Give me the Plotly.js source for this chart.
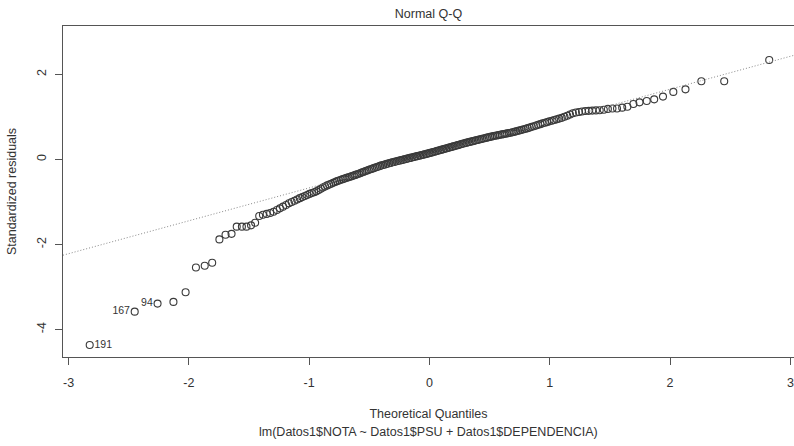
<!DOCTYPE html>
<html>
<head>
<meta charset="utf-8">
<script src="https://cdn.plot.ly/plotly-3.0.1.min.js"></script>
<style>html,body{margin:0;padding:0;background:#fff;}#chart{width:794px;height:446px;}</style>
</head>
<body>
<div id="chart"></div>
<script>
// Theoretical normal quantiles (x), sorted ascending
const theoreticalQuantiles = [
-2.824,-2.450,-2.260,-2.128,-2.027,-1.941,-1.868,-1.806,-1.746,-1.695,
-1.645,-1.602,-1.559,-1.521,-1.483,-1.449,-1.415,-1.384,-1.353,-1.324,
-1.296,-1.268,-1.243,-1.217,-1.192,-1.168,-1.145,-1.122,-1.100,-1.078,
-1.057,-1.036,-1.017,-0.997,-0.978,-0.959,-0.940,-0.921,-0.903,-0.886,
-0.868,-0.850,-0.833,-0.817,-0.800,-0.784,-0.768,-0.752,-0.736,-0.720,
-0.705,-0.690,-0.674,-0.660,-0.645,-0.630,-0.616,-0.602,-0.587,-0.573,
-0.559,-0.545,-0.531,-0.517,-0.504,-0.490,-0.477,-0.464,-0.450,-0.437,
-0.424,-0.411,-0.398,-0.385,-0.372,-0.360,-0.347,-0.334,-0.322,-0.309,
-0.297,-0.284,-0.272,-0.259,-0.247,-0.235,-0.223,-0.210,-0.198,-0.186,
-0.174,-0.162,-0.150,-0.138,-0.126,-0.114,-0.102,-0.090,-0.078,-0.066,
-0.054,-0.042,-0.030,-0.018,-0.006,
0.006,0.018,0.030,0.042,0.054,0.066,0.078,0.090,0.102,0.114,
0.126,0.138,0.150,0.162,0.174,0.186,0.198,0.210,0.223,0.235,
0.247,0.259,0.272,0.284,0.297,0.309,0.322,0.334,0.347,0.360,
0.372,0.385,0.398,0.411,0.424,0.437,0.450,0.464,0.477,0.490,
0.504,0.517,0.531,0.545,0.559,0.573,0.587,0.602,0.616,0.630,
0.645,0.660,0.674,0.690,0.705,0.720,0.736,0.752,0.768,0.784,
0.800,0.817,0.833,0.850,0.868,0.886,0.903,0.921,0.940,0.959,
0.978,0.997,1.017,1.036,1.057,1.078,1.100,1.122,1.145,1.168,
1.192,1.217,1.243,1.268,1.296,1.324,1.353,1.384,1.415,1.449,
1.483,1.521,1.559,1.602,1.645,1.695,1.746,1.806,1.868,1.941,
2.027,2.128,2.260,2.450,2.824
];

// Standardized residuals (y), sorted ascending
const standardizedResiduals = [
-4.365,-3.58,-3.39,-3.35,-3.125,-2.54,-2.50,-2.43,-1.88,-1.77,
-1.75,-1.58,-1.58,-1.58,-1.55,-1.49,-1.33,-1.30,-1.28,-1.26,
-1.23,-1.19,-1.15,-1.11,-1.07,-1.03,-1.00,-0.97,-0.94,-0.91,
-0.885,-0.86,-0.835,-0.81,-0.79,-0.77,-0.75,-0.72,-0.69,-0.66,
-0.635,-0.61,-0.59,-0.57,-0.55,-0.53,-0.51,-0.494,-0.478,-0.462,
-0.446,-0.432,-0.42,-0.405,-0.392,-0.378,-0.363,-0.35,-0.334,-0.318,
-0.303,-0.288,-0.273,-0.258,-0.244,-0.23,-0.217,-0.204,-0.19,-0.177,
-0.164,-0.151,-0.138,-0.128,-0.118,-0.108,-0.097,-0.087,-0.078,-0.067,
-0.058,-0.049,-0.04,-0.031,-0.023,-0.015,-0.006,0.002,0.011,0.02,
0.028,0.037,0.045,0.053,0.062,0.07,0.079,0.087,0.095,0.104,
0.112,0.12,0.129,0.137,0.146,
0.155,0.164,0.174,0.184,0.193,0.203,0.212,0.222,0.232,0.241,
0.251,0.26,0.27,0.28,0.289,0.299,0.308,0.318,0.328,0.338,
0.348,0.357,0.368,0.377,0.388,0.396,0.405,0.414,0.423,0.432,
0.44,0.45,0.459,0.468,0.477,0.486,0.495,0.505,0.514,0.523,
0.532,0.541,0.55,0.558,0.566,0.574,0.582,0.59,0.598,0.606,
0.614,0.622,0.63,0.64,0.651,0.662,0.674,0.686,0.698,0.71,
0.722,0.737,0.752,0.768,0.784,0.80,0.815,0.832,0.85,0.865,
0.88,0.898,0.913,0.928,0.945,0.962,0.98,1.005,1.03,1.058,
1.088,1.105,1.118,1.128,1.14,1.145,1.15,1.155,1.16,1.17,
1.19,1.20,1.20,1.22,1.24,1.306,1.345,1.376,1.415,1.48,
1.59,1.65,1.84,1.84,2.34
];

// Observation labels of the three most extreme (lowest) residuals
const pointLabels = ["191", "167", "94"];
const labelSides = ["middle right", "middle left", "middle left"];

const xTicks = [-3, -2, -1, 0, 1, 2, 3];
const yTicks = [-4, -2, 0, 2];
const xRange = [-3.046, 3.03];
const yRange = [-4.647, 3.141];

// qqline through the quartiles (type 7 quantiles), as R's qqline does
function quantile7(arr, p) {
  const s = arr.slice().sort((a, b) => a - b);
  const h = (s.length - 1) * p;
  const lo = Math.floor(h);
  return s[lo] + (h - lo) * ((s[lo + 1] !== undefined ? s[lo + 1] : s[lo]) - s[lo]);
}
const zq1 = -0.6745, zq3 = 0.6745;
const yq1 = quantile7(standardizedResiduals, 0.25);
const yq3 = quantile7(standardizedResiduals, 0.75);
const slope = (yq3 - yq1) / (zq3 - zq1);
const intercept = yq1 - slope * zq1;

const font = "Liberation Sans, Arial, sans-serif";
const textColor = "#333";

const traces = [
  {
    type: "scatter", mode: "markers",
    x: theoreticalQuantiles, y: standardizedResiduals,
    marker: { symbol: "circle-open", size: 7, color: "#3a3a3a", line: { width: 1.1, color: "#3a3a3a" } },
    hoverinfo: "skip", cliponaxis: false
  },
  {
    type: "scatter", mode: "markers+text",
    x: theoreticalQuantiles.slice(0, pointLabels.length),
    y: standardizedResiduals.slice(0, pointLabels.length),
    text: pointLabels, textposition: labelSides,
    marker: { size: 6, color: "rgba(0,0,0,0)" },
    textfont: { family: font, size: 10.5, color: textColor },
    hoverinfo: "skip", cliponaxis: false
  },
  {
    type: "scatter", mode: "lines",
    x: xRange, y: xRange.map(v => intercept + slope * v),
    line: { color: "#888", width: 1, dash: "1px,2px" },
    hoverinfo: "skip"
  }
];

const layout = {
  width: 794, height: 446,
  margin: { l: 63, r: 0, t: 26, b: 89 },
  paper_bgcolor: "#fff", plot_bgcolor: "#fff",
  showlegend: false,
  font: { family: font, color: textColor, size: 12 },
  title: {
    text: "Normal Q-Q",
    font: { family: font, size: 12.5, color: textColor },
    x: 0.5, xref: "paper", y: 1 - 14 / 446, yref: "container", yanchor: "middle"
  },
  xaxis: {
    range: xRange, tickvals: xTicks, ticktext: xTicks.map(String),
    showgrid: false, zeroline: false,
    showline: true, mirror: true, linecolor: "#555", linewidth: 1,
    ticks: "outside", ticklen: 7, tickcolor: "#555", tickwidth: 1,
    tickfont: { family: font, size: 12.5, color: textColor },
    ticklabelstandoff: 7,
    title: { text: "Theoretical Quantiles", font: { family: font, size: 12.5, color: textColor }, standoff: 20 }
  },
  yaxis: {
    range: yRange, tickvals: yTicks, ticktext: yTicks.map(String),
    showgrid: false, zeroline: false,
    showline: true, mirror: false, linecolor: "#555", linewidth: 1,
    ticks: "outside", ticklen: 7, tickcolor: "#555", tickwidth: 1,
    tickangle: -90,
    tickfont: { family: font, size: 12.5, color: textColor },
    ticklabelstandoff: 4,
    title: { text: "Standardized residuals", font: { family: font, size: 12.5, color: textColor }, standoff: 15 }
  },
  annotations: [
    {
      text: "lm(Datos1$NOTA ~ Datos1$PSU + Datos1$DEPENDENCIA)",
      xref: "paper", yref: "paper", x: 0.5, y: -(432 - 357) / 331,
      xanchor: "center", yanchor: "middle", showarrow: false,
      font: { family: font, size: 12.5, color: textColor }
    }
  ]
};

Plotly.newPlot("chart", traces, layout, { displayModeBar: false, staticPlot: true });
</script>
</body>
</html>
